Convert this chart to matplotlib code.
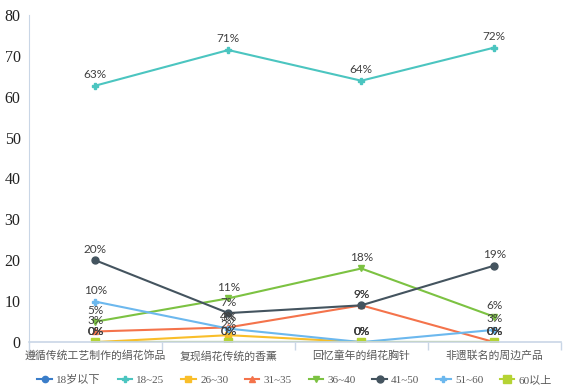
import matplotlib.pyplot as plt

categories = ['遵循传统工艺制作的绢花饰品', '复现绢花传统的香薰', '回忆童年的绢花胸针', '非遗联名的周边产品']
groups = ['18岁以下', '18~25', '26~30', '31~35', '36~40', '41~50', '51~60', '60以上']

under18 = [0, 0, 0, 0]
age18_25 = [62.7, 71.4, 63.9, 72.0]
age26_30 = [0, 1.7, 0, 0]
age31_35 = [2.6, 3.6, 9.0, 0]
age36_40 = [5.0, 10.7, 18.0, 6.2]
age41_50 = [20.0, 7.1, 9.0, 18.7]
age51_60 = [9.9, 3.3, 0, 3.0]
over60 = [0, 0, 0, 0]

series = [under18, age18_25, age26_30, age31_35, age36_40, age41_50, age51_60, over60]
colors = ['#3A7DC9', '#4BC5C0', '#F9BE2A', '#F4734B', '#7CC242', '#44545F', '#6CB8EE', '#B5D334']
markers = ['o', 'P', 's', '^', 'v', 'o', 'P', 's']
msizes = [4.5, 4, 4.5, 4.5, 4.5, 5, 4, 6]

plt.rcParams['font.family'] = ['Liberation Serif', 'Noto Sans CJK SC']

fig = plt.figure(figsize=(5.67, 3.91), dpi=100)
ax = fig.add_axes([0.051, 0.125, 0.938, 0.837])

x = range(len(categories))
for vals, name, c, m, ms in zip(series, groups, colors, markers, msizes):
    ax.plot(x, vals, color=c, lw=1.5, marker=m, ms=ms, label=name)
    for xi, v in zip(x, vals):
        ax.annotate(f'{v:.0f}%', (xi, v), xytext=(0, 4), textcoords='offset points',
                    ha='center', va='bottom', fontsize=8.5, color='#404040',
                    family=['Lato', 'DejaVu Sans'])

ax.set_xlim(-0.5, 3.5)
ax.set_ylim(0, 80)
ax.set_yticks(range(0, 81, 10))
ax.tick_params(axis='y', length=0, labelsize=11.5, pad=6, labelcolor='#222222')
ax.set_xticks(list(x))
ax.set_xticklabels(categories, fontsize=7.8, color='#595959', family=['Noto Sans CJK SC'])
ax.set_xticks([-0.5, 0.5, 1.5, 2.5, 3.5], minor=True)
ax.tick_params(axis='x', which='major', length=0, pad=6)
ax.tick_params(axis='x', which='minor', length=6, color='#C9D6E6', width=1)

for s in ['top', 'right']:
    ax.spines[s].set_visible(False)
ax.spines['left'].set_color('#C9D6E6')
ax.spines['bottom'].set_color('#C9D6E6')
ax.spines['bottom'].set_linewidth(1.2)

fig.legend(loc='center', bbox_to_anchor=(0.52, 0.028), ncol=8, frameon=False,
           fontsize=8, labelcolor='#595959', handlelength=1.3, handletextpad=0.4,
           columnspacing=1.5)

fig.savefig('out.png', dpi=100)
